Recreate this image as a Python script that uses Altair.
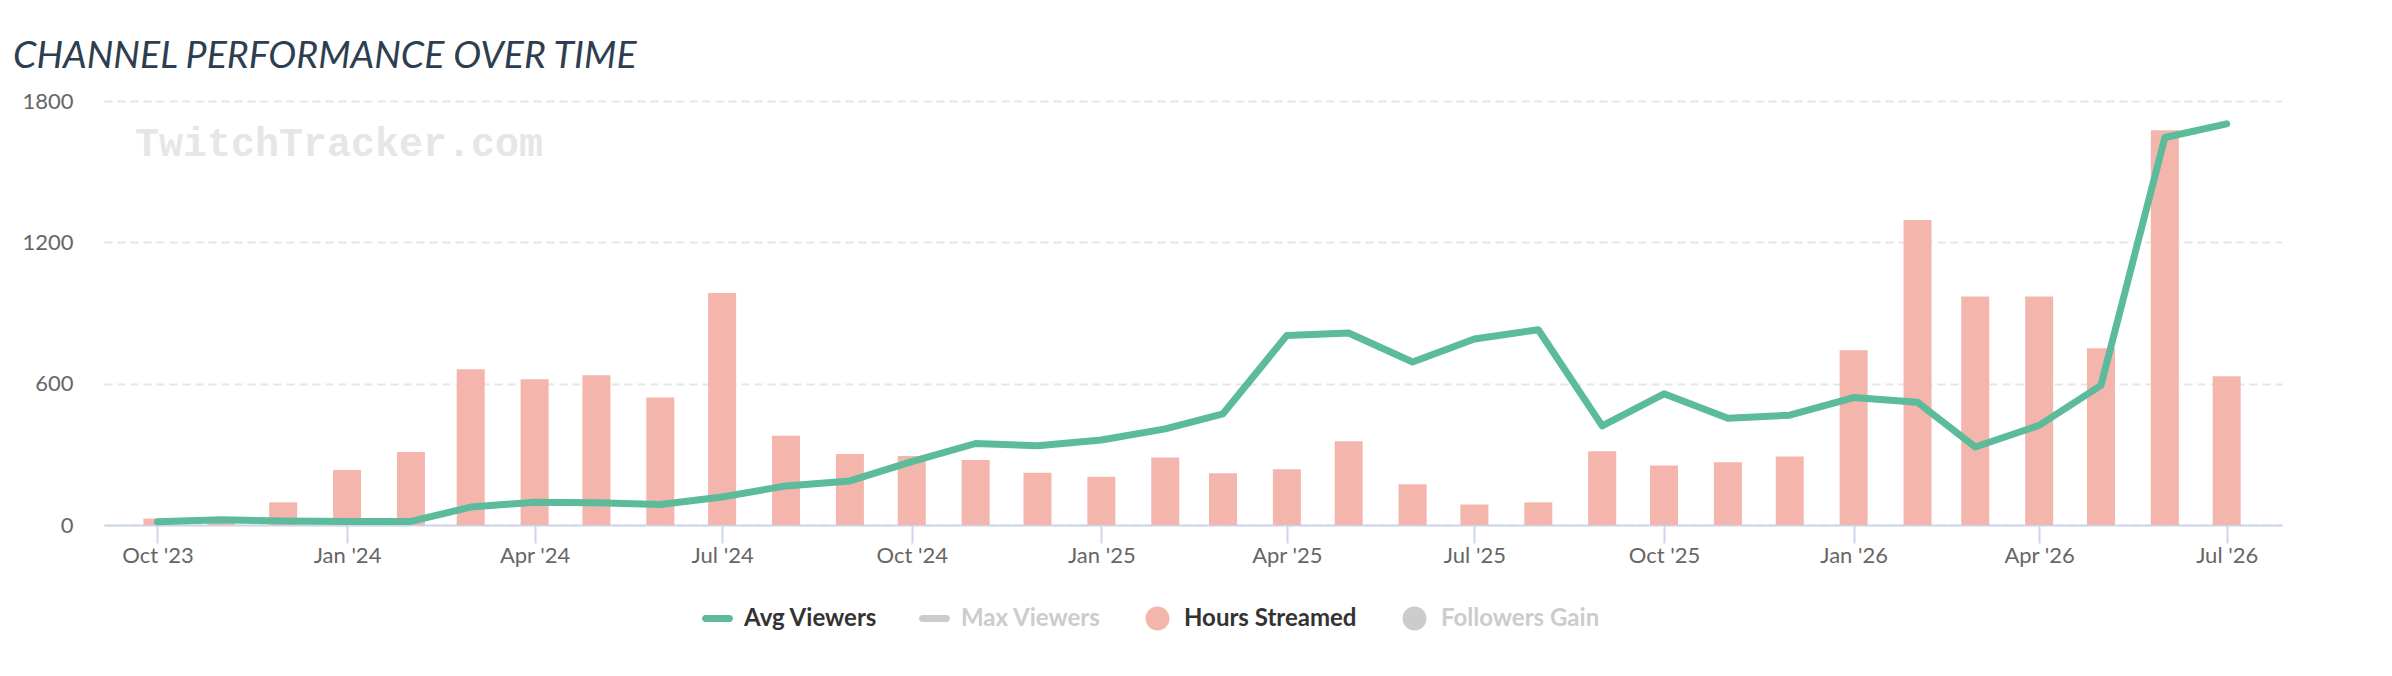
import pandas as pd
import altair as alt

# monthly points, Oct 2023 .. Jul 2026
months = [
    "2023-10-01", "2023-11-01", "2023-12-01", "2024-01-01", "2024-02-01", "2024-03-01",
    "2024-04-01", "2024-05-01", "2024-06-01", "2024-07-01", "2024-08-01", "2024-09-01",
    "2024-10-01", "2024-11-01", "2024-12-01", "2025-01-01", "2025-02-01", "2025-03-01",
    "2025-04-01", "2025-05-01", "2025-06-01", "2025-07-01", "2025-08-01", "2025-09-01",
    "2025-10-01", "2025-11-01", "2025-12-01", "2026-01-01", "2026-02-01", "2026-03-01",
    "2026-04-01", "2026-05-01", "2026-06-01", "2026-07-01",
]
hours_streamed = [
    27, 15, 96, 233, 310, 661, 619, 636, 541, 985, 379, 301,
    293, 276, 222, 205, 287, 220, 237, 356, 173, 87, 96, 313,
    253, 266, 291, 742, 1295, 970, 970, 750, 1676, 631,
]
avg_viewers = [
    14, 22, 17, 15, 15, 76, 97, 94, 87, 119, 166, 187,
    269, 346, 336, 361, 408, 472, 805, 815, 692, 790, 829, 421,
    557, 453, 466, 541, 521, 331, 423, 593, 1645, 1703,
]
quarter_ticks = [(2023, 10), (2024, 1), (2024, 4), (2024, 7), (2024, 10), (2025, 1),
                 (2025, 4), (2025, 7), (2025, 10), (2026, 1), (2026, 4), (2026, 7)]
y_ticks = [0, 600, 1200, 1800]
legend_names = ["Avg Viewers", "Max Viewers", "Hours Streamed", "Followers Gain"]
legend_colors = ["#5bbb9b", "#cccccc", "#f4b5ad", "#cccccc"]
legend_active = [True, False, True, False]

df = pd.DataFrame({"month": months, "hours": hours_streamed, "avg": avg_viewers})
df["series"] = "Hours Streamed"
wm = pd.DataFrame({"text": ["TwitchTracker.com"]})
series_df = pd.DataFrame({"series": legend_names})

line_sym = ("M-0.774,-0.226 L0.774,-0.226 A0.226,0.226 0 0 1 0.774,0.226 "
            "L-0.774,0.226 A0.226,0.226 0 0 1 -0.774,-0.226 Z")
circle_sym = "M-0.774,0 A0.774,0.774 0 1 0 0.774,0 A0.774,0.774 0 1 0 -0.774,0 Z"
legend_syms = [line_sym, line_sym, circle_sym, circle_sym]
legend_x = [598, 815, 1038, 1295]


def legend_for(i):
    return alt.Legend(
        orient="none", legendX=legend_x[i], legendY=502, title=None,
        symbolType=legend_syms[i],
        labelColor="#333333" if legend_active[i] else "#cccccc",
    )


def color_for(i):
    return alt.Color("series:N",
                     scale=alt.Scale(domain=[legend_names[i]], range=[legend_colors[i]]),
                     legend=legend_for(i))


x = alt.X(
    "month:T",
    title=None,
    scale=alt.Scale(
        type="utc",
        domain=[alt.DateTime(year=2023, month=9, date=7, hours=12, utc=True),
                alt.DateTime(year=2026, month=7, date=25, hours=10, utc=True)],
    ),
    axis=alt.Axis(
        values=[alt.DateTime(year=yy, month=mm, date=1, utc=True) for yy, mm in quarter_ticks],
        labelExpr="utcFormat(datum.value, '%b') + \" '\" + utcFormat(datum.value, '%y')",
        labelFont="Lato", labelFontSize=22, labelColor="#666666", labelPadding=2,
        domainColor="#ccd6eb", domainWidth=2, tickColor="#ccd6eb", tickWidth=2, tickSize=18,
        grid=False, labelFlush=False,
    ),
)

bars = alt.Chart(df).mark_bar(width=28).encode(
    x=x,
    y=alt.Y("hours:Q", title=None,
            scale=alt.Scale(domain=[0, 1800], nice=False),
            axis=alt.Axis(values=y_ticks, format="d", grid=True, gridColor="#e6e6e6",
                          gridDash=[8, 5], gridWidth=2, domain=False, ticks=False,
                          labelFont="Lato", labelFontSize=22, labelColor="#666666",
                          labelPadding=31)),
    color=color_for(2),
)

line = alt.Chart(df).mark_line(
    color="#5bbb9b", strokeWidth=7, strokeCap="round", strokeJoin="round"
).encode(x=x, y="avg:Q")

# legend-only layers (no rows drawn)
carriers = [
    alt.Chart(series_df).mark_circle().encode(color=color_for(i)).transform_filter("false")
    for i in (0, 1, 3)
]

watermark = alt.Chart(wm).mark_text(
    font="Liberation Mono", fontWeight="bold", fontSize=40, color="#e6e6e6",
    align="left", baseline="alphabetic",
).encode(x=alt.value(31), y=alt.value(55), text="text:N")

chart = (
    alt.layer(watermark, bars, line, *carriers)
    .resolve_scale(color="independent")
    .resolve_legend(color="independent")
    .properties(
        width=2178, height=424,
        background="white",
        autosize=alt.AutoSizeParams(type="none"),
        padding={"left": 96, "top": 93, "right": 102, "bottom": 130},
        title=alt.Title("CHANNEL PERFORMANCE OVER TIME", font="Lato", fontSize=37.5,
                        fontStyle="italic", fontWeight="normal", color="#2d3e50",
                        anchor="start", frame="group", dx=-91, dy=15, offset=30),
    )
    .configure_view(strokeWidth=0)
    .configure_legend(
        direction="horizontal", labelFont="Lato", labelFontSize=24, labelFontWeight="bold",
        labelOffset=11, labelLimit=400, symbolSize=961, symbolStrokeWidth=0, symbolOpacity=1,
    )
)

chart.save("out.html", embed_options={"renderer": "svg", "actions": False})
